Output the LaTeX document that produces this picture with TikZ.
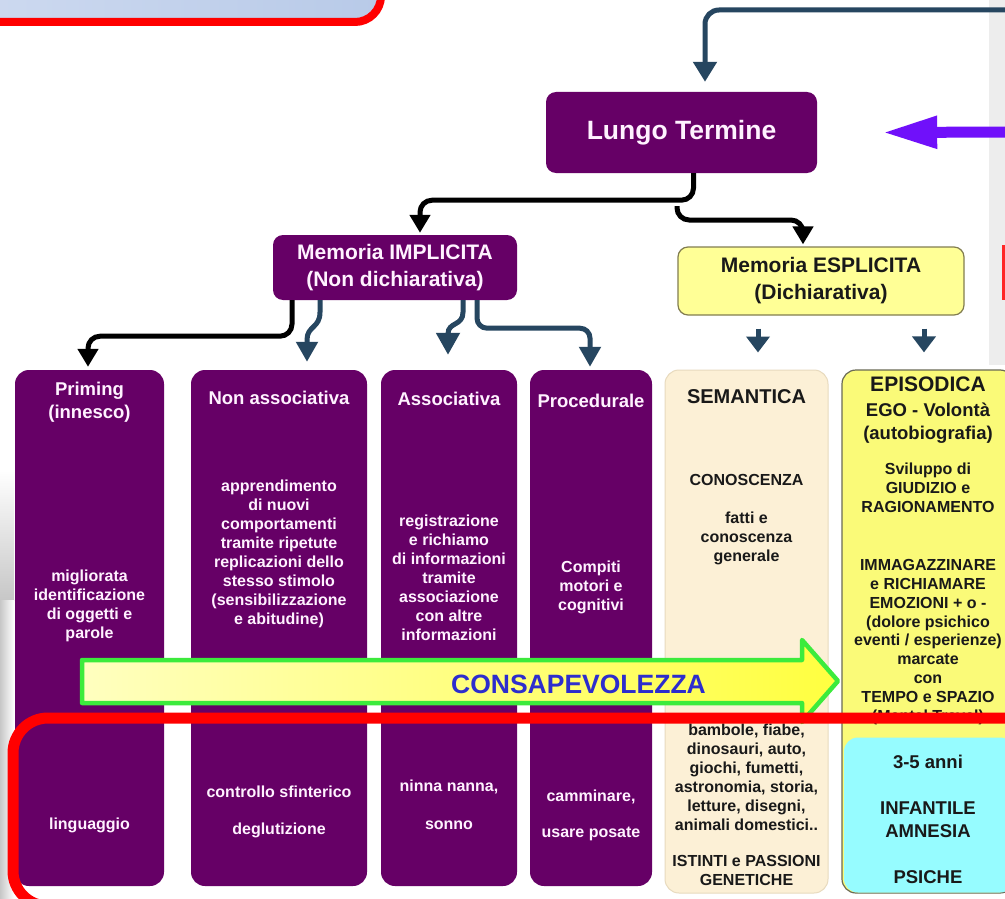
\documentclass[tikz,border=0pt]{standalone}
\usepackage{fontspec}
\setmainfont{Liberation Sans}
\usetikzlibrary{arrows.meta}
\definecolor{purp}{RGB}{102,0,102}
\definecolor{wtxt}{RGB}{255,242,255}
\definecolor{dblue}{RGB}{38,70,96}
\definecolor{viol}{RGB}{112,16,250}
\definecolor{explf}{RGB}{255,255,150}
\definecolor{explb}{RGB}{130,125,80}
\definecolor{semf}{RGB}{252,240,214}
\definecolor{semb}{RGB}{232,218,190}
\definecolor{epif}{RGB}{250,250,120}
\definecolor{epib}{RGB}{105,105,85}
\definecolor{cyanf}{RGB}{150,252,255}
\definecolor{cgreen}{RGB}{60,235,60}
\definecolor{cblue}{RGB}{45,45,205}
\definecolor{tblueA}{RGB}{206,218,240}
\definecolor{tblueB}{RGB}{184,202,232}
\definecolor{dtxt}{RGB}{25,25,25}
\newcommand\myfs[2]{\fontsize{#1}{#2}\selectfont}
\begin{document}
\begin{tikzpicture}[x=1pt,y=-1pt,
  pbox/.style={fill=purp, rounded corners=10pt, text=wtxt, align=center, inner sep=0pt},
  col/.style={fill=purp, rounded corners=14pt, inner sep=0pt},
  wt/.style={text=wtxt, font=\bfseries\myfs{16}{19}, align=center, inner sep=0pt},
  wtt/.style={text=wtxt, font=\bfseries\myfs{18.5}{23}, align=center, inner sep=0pt},
  bt/.style={text=dtxt, font=\bfseries\myfs{16}{19}, align=center, inner sep=0pt},
  btt/.style={text=dtxt, font=\bfseries\myfs{18.5}{22.5}, align=center, inner sep=0pt},
  blk/.style={draw=black, line width=5pt, rounded corners=12pt, -{Triangle[width=20pt,length=18pt]}},
  dbl/.style={draw=dblue, line width=5pt, rounded corners=10pt, -{Triangle[width=21pt,length=20pt]}},
  dbls/.style={draw=dblue, line width=5pt, -{Triangle[width=23pt,length=16pt]}},
]
\useasboundingbox (0,0) rectangle (1005,899);
\clip (0,0) rectangle (1005,899);
\fill[white] (0,0) rectangle (1005,899);
% side shadows
\shade[top color=white, bottom color=black!22] (0,470) rectangle (14,600);
\shade[left color=black!22, right color=white] (0,600) rectangle (14,899);
\fill[black!7] (989,0) rectangle (1005,365);
\fill[red!85] (1002,245) rectangle (1005,300);
% top-left box
\draw[draw=red, line width=8pt, rounded corners=26pt, left color=tblueA, right color=tblueB] (-40,-40) rectangle (381,22);

% main nodes
\node[pbox, minimum width=271pt, minimum height=81pt, font=\bfseries\myfs{26.5}{30}] (lt) at (681.5,132.5) {Lungo Termine};
\node[pbox, minimum width=244pt, minimum height=65pt, font=\bfseries\myfs{21}{27}] (impl) at (395,267.5) {Memoria IMPLICITA\\(Non dichiarativa)};
\node[fill=explf, draw=explb, line width=1.2pt, rounded corners=10pt, minimum width=286pt, minimum height=68pt, align=center, inner sep=0pt, text=dtxt, font=\bfseries\myfs{21}{27}] (expl) at (821,281) {Memoria ESPLICITA\\(Dichiarativa)};

% columns
\node[col, minimum width=149pt, minimum height=516pt] (c1) at (89.5,628) {};
\node[col, minimum width=176pt, minimum height=516pt] (c2) at (279,628) {};
\node[col, minimum width=136pt, minimum height=516pt] (c3) at (449,628) {};
\node[col, minimum width=122pt, minimum height=516pt] (c4) at (591,628) {};
\node[fill=semf, draw=semb, line width=1pt, rounded corners=14pt, minimum width=163pt, minimum height=523pt, inner sep=0pt] (sem) at (746.5,631.5) {};
\node[fill=epif, draw=epib, line width=1.2pt, rounded corners=14pt, minimum width=172pt, minimum height=523pt, inner sep=0pt] (epi) at (928,631.5) {};
\node[fill=cyanf, rounded corners=14pt, minimum width=170pt, minimum height=155pt, inner sep=0pt] (cy) at (929,815) {};

% connectors
\coordinate (topin) at (1010,10);
\draw[dbl, rounded corners=14pt, -{Triangle[width=23pt,length=20pt]}] (topin) -| ([xshift=23.5pt,yshift=10pt]lt.north);
\coordinate (vin) at (1010,132);
\draw[draw=viol, line width=11pt, -{Triangle[width=30pt,length=55pt]}] (vin) -- ([xshift=65pt]lt.east);
\draw[blk] ([xshift=12pt]lt.south) -- ++(0,27) -| ([xshift=25pt,yshift=2pt]impl.north);
\coordinate (b2) at (677,206);
\draw[blk] (b2) -- ++(0,14) -| ([xshift=-18pt,yshift=2pt]expl.north);
\draw[blk] ([xshift=-103pt]impl.south) -- ++(0,36) -| ([xshift=-1.5pt,yshift=3pt]c1.north);
\draw[dbl, rounded corners=0pt] ([xshift=-75pt]impl.south) -- ++(0,12) .. controls +(0,16) and +(0,-14) .. ([xshift=28pt,yshift=30pt]c2.north) -- ([xshift=28pt,yshift=8pt]c2.north);
\draw[dbl, rounded corners=0pt, -{Triangle[width=23pt,length=22pt]}] ([xshift=68pt]impl.south) -- ++(0,12) .. controls +(0,14) and +(0,-12) .. ([xshift=-1pt,yshift=36pt]c3.north) -- ([xshift=-1pt,yshift=15pt]c3.north);
\draw[dbl] ([xshift=82pt]impl.south) -- ++(0,28) -| ([xshift=-1pt,yshift=3pt]c4.north);
\draw[dbls] ([xshift=-63pt,yshift=-13pt]expl.south) -- ([xshift=11.5pt,yshift=17pt]sem.north);
\draw[dbls] ([xshift=103pt,yshift=-13pt]expl.south) -- ([xshift=-4pt,yshift=17pt]epi.north);

% column texts
\node[wtt] (t1a) at (89.5,402) {Priming\\(innesco)};
\node[wt] (t1b) at (89.5,606) {migliorata\\identificazione\\di oggetti e\\parole};
\node[wt] (t1c) at (89.5,825) {linguaggio};

\node[wtt] (t2a) at (279,398) {Non associativa};
\node[wt] (t2b) at (279,554) {apprendimento\\di nuovi\\comportamenti\\tramite ripetute\\replicazioni dello\\stesso stimolo\\(sensibilizzazione\\e abitudine)};
\node[wt] (t2c) at (279,792) {controllo sfinterico};
\node[wt] (t2d) at (279,830) {deglutizione};

\node[wtt] (t3a) at (449,399) {Associativa};
\node[wt] (t3b) at (449,578) {registrazione\\e richiamo\\di informazioni\\tramite\\associazione\\con altre\\informazioni};
\node[wt] (t3c) at (449,787) {ninna nanna,};
\node[wt] (t3d) at (449,825) {sonno};

\node[wtt] (t4a) at (591,401) {Procedurale};
\node[wt] (t4b) at (591,587) {Compiti\\motori e\\cognitivi};
\node[wt] (t4c) at (591,797) {camminare,};
\node[wt] (t4d) at (591,834) {usare posate};

\node[bt, font=\bfseries\myfs{20}{24}] (s1) at (746.5,397) {SEMANTICA};
\node[bt] (s2) at (746.5,480) {CONOSCENZA};
\node[bt] (s3) at (746.5,538) {fatti e\\conoscenza\\generale};
\node[bt] (s4) at (746.5,777) {bambole, fiabe,\\dinosauri, auto,\\giochi, fumetti,\\astronomia, storia,\\letture, disegni,\\animali domestici..};
\node[bt] (s5) at (746.5,870.5) {ISTINTI e PASSIONI\\GENETICHE};

\node[bt, font=\bfseries\myfs{21}{24}] (e1) at (928,384) {EPISODICA};
\node[btt] (e2) at (928,423) {EGO - Volontà\\(autobiografia)};
\node[bt] (e3) at (928,487.5) {Sviluppo di\\GIUDIZIO e\\RAGIONAMENTO};
\node[bt, font=\bfseries\myfs{16}{18.8}] (e4) at (928,642) {IMMAGAZZINARE\\e RICHIAMARE\\EMOZIONI + o -\\(dolore psichico\\eventi / esperienze)\\marcate\\con\\TEMPO e SPAZIO\\(Mental Travel)};
\node[btt] (e5) at (928,762) {3-5 anni};
\node[btt] (e6) at (928,819.5) {INFANTILE\\AMNESIA};
\node[btt] (e7) at (928,877) {PSICHE};

% consapevolezza arrow
\draw[draw=cgreen, line width=4.5pt, line join=round, left color=yellow!25, right color=yellow!75] (82,660) -- (802,660) -- (802,640) -- (838,681) -- (802,722) -- (802,703) -- (82,703) -- cycle;
\node[text=cblue, font=\bfseries\myfs{26.5}{30}, inner sep=0pt] (consa) at (578.5,684) {CONSAPEVOLEZZA};

% red frame
\draw[draw=red, line width=11pt, rounded corners=35pt] (13,718) rectangle (1040,906);
\end{tikzpicture}
\end{document}
